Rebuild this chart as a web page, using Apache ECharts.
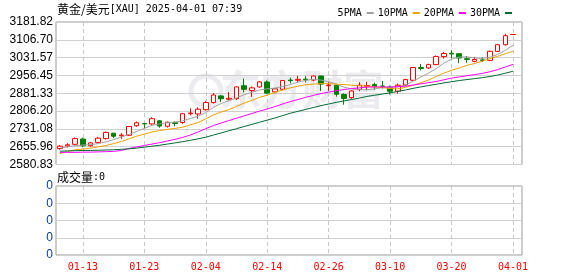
<!DOCTYPE html>
<html>
<head>
<meta charset="utf-8">
<title>黄金/美元[XAU]</title>
<script src="https://cdn.jsdelivr.net/npm/echarts@6.0.0/dist/echarts.min.js"></script>
<style>
  html, body { margin: 0; padding: 0; background: #fff; }
  #chart { width: 578px; height: 276px; }
</style>
</head>
<body>
<div id="chart"></div>
<script>
// 黄金/美元 日K (2025-01-08 ~ 2025-04-01)
const symbolName = '黄金/美元'
const symbolCode = '[XAU] 2025-04-01 07:39'
const volume = 0

const dates = [
  '01-08', '01-09', '01-10', '01-13', '01-14', '01-15', '01-16', '01-17', '01-20', '01-21',
  '01-22', '01-23', '01-24', '01-27', '01-28', '01-29', '01-30', '01-31', '02-03', '02-04',
  '02-05', '02-06', '02-07', '02-10', '02-11', '02-12', '02-13', '02-14', '02-17', '02-18',
  '02-19', '02-20', '02-21', '02-24', '02-25', '02-26', '02-27', '02-28', '03-03', '03-04',
  '03-05', '03-06', '03-07', '03-10', '03-11', '03-12', '03-13', '03-14', '03-17', '03-18',
  '03-19', '03-20', '03-21', '03-24', '03-25', '03-26', '03-27', '03-28', '03-31', '04-01',
  '',
]
const dateTicks = ['01-13', '01-23', '02-04', '02-14', '02-26', '03-10', '03-20', '04-01']

// [open, close, low, high]
const ohlc = [
  [2648, 2658, 2643, 2663], [2659, 2664, 2653, 2671], [2666, 2690, 2661, 2695], [2688, 2660, 2654, 2694],
  [2660, 2672, 2656, 2676], [2674, 2692, 2671, 2697], [2690, 2716, 2686, 2720], [2713, 2700, 2692, 2714],
  [2702, 2705, 2689, 2713], [2704, 2741, 2701, 2743], [2744, 2757, 2740, 2762], [2754, 2752, 2733, 2755],
  [2752, 2774, 2749, 2780], [2765, 2743, 2736, 2768], [2742, 2759, 2737, 2762], [2757, 2754, 2742, 2763],
  [2758, 2795, 2752, 2798], [2795, 2798, 2788, 2817], [2794, 2814, 2774, 2822], [2812, 2842, 2808, 2848],
  [2842, 2874, 2838, 2882], [2870, 2858, 2845, 2874], [2856, 2860, 2850, 2886], [2858, 2908, 2853, 2911],
  [2913, 2898, 2885, 2943], [2893, 2904, 2866, 2910], [2908, 2929, 2905, 2933], [2929, 2882, 2877, 2935],
  [2887, 2900, 2881, 2903], [2898, 2935, 2895, 2937], [2937, 2934, 2923, 2947], [2936, 2940, 2928, 2954],
  [2941, 2938, 2927, 2953], [2937, 2954, 2932, 2956], [2954, 2920, 2891, 2955], [2913, 2916, 2891, 2928],
  [2915, 2877, 2867, 2916], [2876, 2859, 2833, 2881], [2863, 2891, 2858, 2894], [2897, 2915, 2890, 2928],
  [2911, 2914, 2894, 2929], [2918, 2909, 2896, 2926], [2912, 2910, 2901, 2933], [2907, 2890, 2876, 2914],
  [2890, 2915, 2880, 2922], [2916, 2939, 2912, 2942], [2936, 2990, 2933, 2992], [2990, 2986, 2978, 3005],
  [2988, 3002, 2984, 3006], [3002, 3036, 3000, 3041], [3036, 3049, 3028, 3055], [3050, 3047, 3030, 3062],
  [3048, 3030, 3008, 3050], [3027, 3024, 3010, 3038], [3016, 3024, 3012, 3034], [3022, 3020, 3014, 3033],
  [3020, 3058, 3018, 3061], [3058, 3086, 3055, 3089], [3086, 3124, 3082, 3132], [3129, 3129, 3129, 3129],
]

const ma5 = [
  2650, 2655, 2660, 2663, 2665, 2669, 2676, 2686, 2696, 2708,
  2720, 2733, 2746, 2752, 2757, 2760, 2765, 2775, 2784, 2800,
  2822, 2838, 2850, 2862, 2875, 2885, 2895, 2900, 2903, 2910,
  2918, 2928, 2936, 2940, 2937, 2930, 2920, 2907, 2900, 2897,
  2896, 2900, 2905, 2906, 2908, 2916, 2932, 2950, 2966, 2985,
  3008, 3025, 3034, 3035, 3030, 3028, 3033, 3045, 3062, 3084,
]
const ma10 = [
  2627, 2636, 2643, 2646, 2650, 2655, 2661, 2669, 2678, 2689,
  2700, 2709, 2718, 2724, 2729, 2733, 2738, 2748, 2758, 2773,
  2790, 2802, 2812, 2826, 2840, 2851, 2864, 2873, 2885, 2895,
  2904, 2911, 2917, 2920, 2922, 2922, 2920, 2918, 2915, 2913,
  2912, 2908, 2905, 2901, 2900, 2906, 2915, 2926, 2937, 2952,
  2966, 2978, 2988, 2999, 3007, 3016, 3028, 3037, 3048, 3058,
]
const ma20 = [
  2632, 2632, 2632, 2633, 2633, 2634, 2635, 2636, 2640, 2648,
  2655, 2661, 2667, 2673, 2680, 2687, 2695, 2705, 2718, 2732,
  2745, 2756, 2766, 2776, 2786, 2796, 2806, 2815, 2825, 2836,
  2846, 2855, 2864, 2872, 2880, 2886, 2892, 2897, 2901, 2904,
  2907, 2908, 2908, 2908, 2909, 2911, 2916, 2921, 2926, 2931,
  2938, 2945, 2950, 2955, 2960, 2965, 2972, 2981, 2992, 3003,
]
const ma30 = [
  2637, 2638, 2639, 2640, 2640, 2641, 2642, 2643, 2645, 2647,
  2650, 2654, 2658, 2662, 2667, 2672, 2677, 2683, 2689, 2696,
  2705, 2714, 2723, 2732, 2741, 2750, 2759, 2768, 2777, 2787,
  2797, 2805, 2813, 2821, 2829, 2836, 2843, 2849, 2855, 2861,
  2868, 2873, 2878, 2883, 2889, 2895, 2902, 2908, 2914, 2919,
  2925, 2930, 2935, 2939, 2943, 2947, 2952, 2958, 2966, 2974,
]

const priceTicks = ['2580.83', '2655.96', '2731.08', '2806.20', '2881.33', '2956.45', '3031.57', '3106.70', '3181.82']
const volumeTicks = ['0', '0', '0', '0', '0']

const monoFont = '"DejaVu Sans Mono", monospace'
const isDateTick = (idx) => dateTicks.includes(dates[idx])

// 数据区：61 个类目格，每格宽度
const plotLeft = 56
const plotWidth = 468.5
const slot = plotWidth / dates.length
// 日期竖线：第一条在第 3 根K线，之后每 8 根一条
const firstTick = dates.indexOf(dateTicks[0])
const tickStep = 8
const lineGridLeft = plotLeft + (firstTick + 0.5 - tickStep) * slot
const lineGridWidth = tickStep * (dateTicks.length + 1) * slot

const chart = echarts.init(document.getElementById('chart'))

const maLine = (name, data, color) => ({
  name,
  type: 'line',
  xAxisIndex: 1,
  yAxisIndex: 1,
  data,
  symbol: 'none',
  silent: true,
  lineStyle: { width: 1, color },
  itemStyle: { color },
})

// 只画竖向虚线的数值轴，刻度 0,8,16… 对应 dateTicks
const dateLineAxis = (gridIndex) => ({
  type: 'value',
  gridIndex,
  min: -tickStep,
  max: tickStep * dateTicks.length,
  interval: tickStep,
  axisLine: { show: false },
  axisTick: { show: false },
  axisLabel: { show: false },
  splitLine: {
    show: true,
    showMinLine: false,
    showMaxLine: false,
    lineStyle: { color: '#c8c8c8', type: [4, 3] },
  },
})

const option = {
  animation: false,
  legend: {
    data: ['5PMA', '10PMA', '20PMA', '30PMA'],
    right: 61,
    top: 3,
    align: 'right',
    icon: 'rect',
    itemWidth: 7,
    itemHeight: 2,
    itemGap: 4,
    selectedMode: false,
    textStyle: { fontFamily: monoFont, fontSize: 10, color: '#000' },
  },
  graphic: [
    {
      type: 'text',
      left: 57,
      top: 3,
      style: {
        text: '{cn|' + symbolName + '}{en|' + symbolCode + '}',
        rich: {
          cn: { fontFamily: '"Noto Sans CJK SC"', fontSize: 12, fill: '#000' },
          en: { fontFamily: monoFont, fontSize: 10, fill: '#000' },
        },
      },
    },
    {
      type: 'text',
      left: 57,
      top: 171,
      style: {
        text: '{cn|成交量}{en|:' + volume + '}',
        rich: {
          cn: { fontFamily: '"Noto Sans CJK SC"', fontSize: 12, fill: '#000' },
          en: { fontFamily: monoFont, fontSize: 10, fill: '#000' },
        },
      },
    },
    {
      // 水印
      type: 'text',
      left: 220,
      top: 69,
      z: 0,
      silent: true,
      style: {
        text: '东方财富',
        fontFamily: '"Noto Sans CJK SC"',
        fontWeight: 'bold',
        fontSize: 41,
        fill: '#ececf0',
      },
    },
    {
      type: 'circle',
      z: 0,
      silent: true,
      shape: { cx: 206, cy: 91, r: 15 },
      style: { fill: 'none', stroke: '#ececf0', lineWidth: 5 },
    },
  ],
  grid: [
    { left: plotLeft, top: 22, width: 466, height: 142.5, show: true, borderColor: '#999', borderWidth: 1 },
    { left: plotLeft, top: 22, width: plotWidth, height: 142.5 },
    { left: plotLeft, top: 186, width: 466, height: 69, show: true, borderColor: '#999', borderWidth: 1 },
    { left: plotLeft, top: 186, width: plotWidth, height: 69 },
    { left: lineGridLeft, top: 22, width: lineGridWidth, height: 142.5 },
    { left: lineGridLeft, top: 186, width: lineGridWidth, height: 69 },
  ],
  xAxis: [
    { type: 'value', gridIndex: 0, min: 0, max: 1, show: false },
    {
      type: 'category',
      gridIndex: 1,
      data: dates,
      axisLine: { show: false },
      axisTick: { show: false },
      axisLabel: { show: false },
      splitLine: { show: false },
    },
    { type: 'value', gridIndex: 2, min: 0, max: 1, show: false },
    {
      type: 'category',
      gridIndex: 3,
      data: dates,
      axisLine: { show: false },
      axisTick: { show: false },
      axisLabel: {
        interval: isDateTick,
        color: '#ff0000',
        fontFamily: monoFont,
        fontSize: 10,
        margin: 7,
      },
      splitLine: { show: false },
    },
    dateLineAxis(4),
    dateLineAxis(5),
  ],
  yAxis: [
    {
      type: 'value',
      gridIndex: 0,
      min: 0,
      max: priceTicks.length - 1,
      interval: 1,
      axisLine: { show: false },
      axisTick: { show: false },
      axisLabel: {
        formatter: (v) => priceTicks[v],
        color: '#000',
        fontFamily: '"Liberation Sans"',
        fontSize: 12,
        margin: 3,
      },
      splitLine: { lineStyle: { color: '#d0d0d0' } },
    },
    {
      type: 'value',
      gridIndex: 1,
      min: Number(priceTicks[0]),
      max: Number(priceTicks[priceTicks.length - 1]),
      show: false,
    },
    {
      type: 'value',
      gridIndex: 2,
      min: 0,
      max: volumeTicks.length - 1,
      interval: 1,
      axisLine: { show: false },
      axisTick: { show: false },
      axisLabel: {
        formatter: (v) => volumeTicks[v],
        color: '#0b3d91',
        fontFamily: '"Liberation Sans"',
        fontSize: 12,
        margin: 3,
      },
      splitLine: { lineStyle: { color: '#d0d0d0' } },
    },
    { type: 'value', gridIndex: 3, min: 0, max: 1, show: false },
    { type: 'value', gridIndex: 4, min: 0, max: 1, show: false },
    { type: 'value', gridIndex: 5, min: 0, max: 1, show: false },
  ],
  series: [
    {
      name: 'K',
      type: 'candlestick',
      xAxisIndex: 1,
      yAxisIndex: 1,
      data: ohlc,
      barWidth: 5,
      silent: true,
      itemStyle: {
        color: '#ffffff',
        color0: '#008000',
        borderColor: '#ff0000',
        borderColor0: '#008000',
        borderWidth: 1,
      },
    },
    maLine('5PMA', ma5, '#a0a0a0'),
    maLine('10PMA', ma10, '#f0a000'),
    maLine('20PMA', ma20, '#ff00ff'),
    maLine('30PMA', ma30, '#006a35'),
  ],
}

chart.setOption(option)
</script>
</body>
</html>
